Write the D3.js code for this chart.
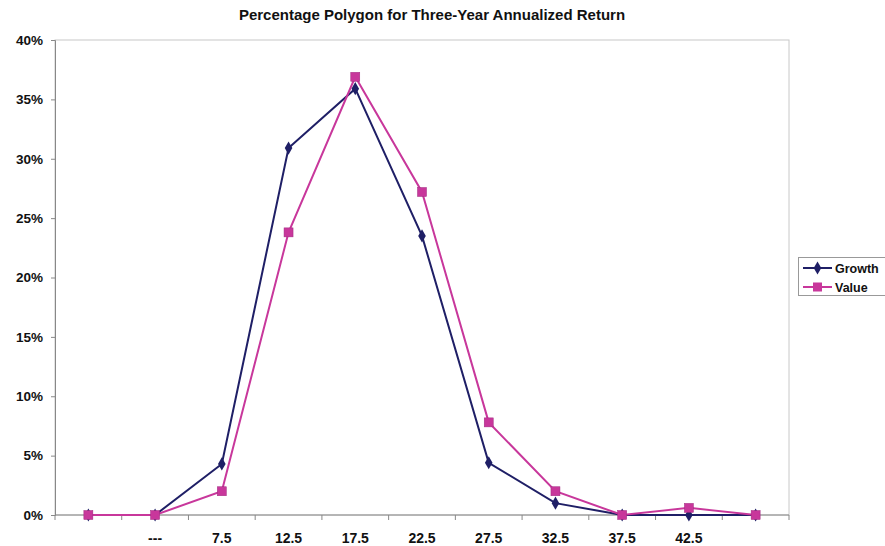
<!DOCTYPE html>
<html><head><meta charset="utf-8">
<script src="https://cdn.jsdelivr.net/npm/d3@7"></script>
<style>
body{margin:0;background:#fff;overflow:hidden}
text{font-family:"Liberation Sans",Arial,sans-serif;font-weight:bold}
</style></head>
<body><svg id="c" width="885" height="546"></svg>
<script>
const title = "Percentage Polygon for Three-Year Annualized Return";
const categories = ["c0","c1","c2","c3","c4","c5","c6","c7","c8","c9","c10"];
const tickLabels = ["", "---", "7.5", "12.5", "17.5", "22.5", "27.5", "32.5", "37.5", "42.5", ""];
const growth = [0, 0, 4.3, 30.9, 35.9, 23.5, 4.4, 1.0, 0, 0, 0];
const value  = [0, 0, 2.0, 23.8, 36.9, 27.2, 7.8, 2.0, 0, 0.6, 0];
const yTicks = [0, 5, 10, 15, 20, 25, 30, 35, 40];
const seriesNames = ["Growth", "Value"];

const svg = d3.select("#c");
const L = 55, R = 789, T = 40, B = 515;
const x = d3.scaleBand().domain(categories).range([L, R]);
const y = d3.scaleLinear().domain([0, 40]).range([B, T]);
const gColor = "#1f1f66", vColor = "#c8379b";

svg.append("text").attr("x", 432).attr("y", 20).attr("text-anchor", "middle")
  .attr("font-size", 15).attr("fill", "#111").text(title);

// plot border
svg.append("rect").attr("x", L).attr("y", T).attr("width", R - L).attr("height", B - T)
  .attr("fill", "none").attr("stroke", "#c8c8c8").attr("stroke-width", 1);

// y axis
const ya = svg.append("g").attr("transform", `translate(${L},0)`)
  .call(d3.axisLeft(y).tickValues(yTicks).tickFormat(d => d + "%").tickSize(4).tickPadding(8));
ya.select(".domain").attr("stroke", "#888");
ya.selectAll(".tick line").attr("stroke", "#888");
ya.selectAll("text").attr("font-size", 13.5).attr("fill", "#111").style("font-weight", "bold")
  .style("font-family", '"Liberation Sans",Arial,sans-serif');

// x axis with ticks at band boundaries
const xa = svg.append("g").attr("transform", `translate(0,${B})`);
xa.append("line").attr("x1", L).attr("x2", R).attr("stroke", "#888");
const bounds = categories.map(c => x(c)).concat([R]);
xa.selectAll("line.tk").data(bounds).enter().append("line").attr("class", "tk")
  .attr("x1", d => d).attr("x2", d => d).attr("y1", 0).attr("y2", 5).attr("stroke", "#888");
xa.selectAll("text").data(categories).enter().append("text")
  .attr("x", d => x(d) + x.bandwidth() / 2).attr("y", 28).attr("text-anchor", "middle")
  .attr("font-size", 14).attr("fill", "#111").text((d, i) => tickLabels[i]);

const line = d3.line().x((d, i) => x(categories[i]) + x.bandwidth() / 2).y(d => y(d));

svg.append("path").datum(growth).attr("d", line).attr("fill", "none").attr("stroke", gColor).attr("stroke-width", 2);
svg.append("path").datum(value).attr("d", line).attr("fill", "none").attr("stroke", vColor).attr("stroke-width", 2);

const diamond = d3.symbol().type(d3.symbolDiamond).size(50);
svg.selectAll("path.gm").data(growth).enter().append("path").attr("class", "gm")
  .attr("d", diamond)
  .attr("transform", (d, i) => `translate(${x(categories[i]) + x.bandwidth() / 2},${y(d)})`)
  .attr("fill", gColor);
svg.selectAll("rect.vm").data(value).enter().append("rect").attr("class", "vm")
  .attr("x", (d, i) => x(categories[i]) + x.bandwidth() / 2 - 4.5).attr("y", d => y(d) - 4.5)
  .attr("width", 9).attr("height", 9).attr("fill", vColor).attr("stroke", "#a02a80").attr("stroke-width", 0.5);

// legend
const lg = svg.append("g");
lg.append("rect").attr("x", 798.5).attr("y", 257.5).attr("width", 100).attr("height", 38)
  .attr("fill", "#fff").attr("stroke", "#999");
[[gColor, "Growth", 268], [vColor, "Value", 287]].forEach(([c, n, yy], i) => {
  lg.append("line").attr("x1", 803).attr("x2", 832).attr("y1", yy).attr("y2", yy).attr("stroke", c).attr("stroke-width", 2);
  if (i === 0) lg.append("path").attr("d", diamond).attr("transform", `translate(817.5,${yy})`).attr("fill", c);
  else lg.append("rect").attr("x", 813).attr("y", yy - 4.5).attr("width", 9).attr("height", 9).attr("fill", c);
  lg.append("text").attr("x", 835).attr("y", yy + 4.5).attr("font-size", 12.5).attr("fill", "#111").text(seriesNames[i]);
});
</script></body></html>
